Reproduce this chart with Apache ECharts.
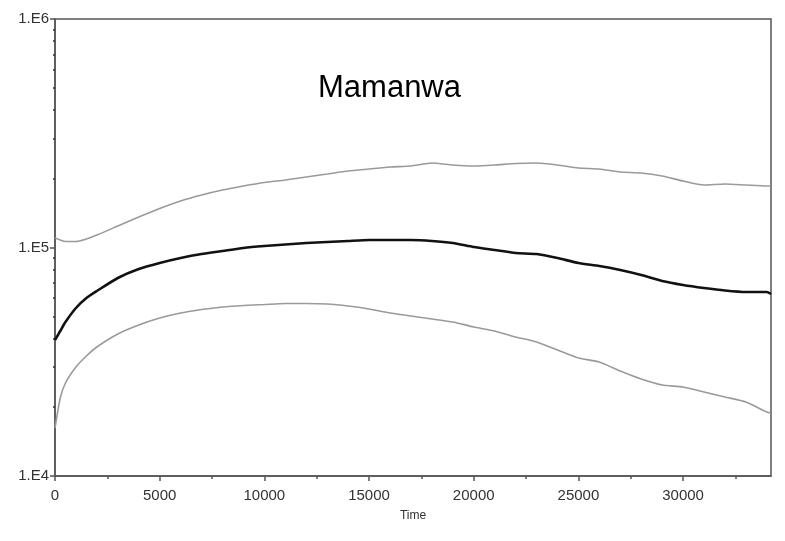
<!DOCTYPE html>
<html>
<head>
<meta charset="utf-8">
<script src="https://cdn.jsdelivr.net/npm/echarts@6/dist/echarts.min.js"></script>
<style>
  html, body { margin: 0; padding: 0; background: #fff; }
  #main { width: 785px; height: 541px; }
</style>
</head>
<body>
<div id="main"></div>
<script>
// time points (x axis)
var times = [0, 250, 500, 1000, 1500, 2000, 3000, 4000, 5000, 6000, 7000, 8000, 9000, 10000,
    11000, 12000, 13000, 14000, 15000, 16000, 17000, 18000, 19000, 20000, 21000, 22000, 23000,
    24000, 25000, 26000, 27000, 28000, 29000, 30000, 31000, 32000, 33000, 34000, 34200];

// median estimate (black)
var median = [39370, 43110, 47200, 54350, 60120, 64510, 73550, 80520, 85530, 89950, 93670, 96540,
    99500, 101500, 103100, 104600, 105700, 106800, 107800, 107800, 107800, 106800, 104600, 100500,
    97520, 94600, 93670, 89950, 85530, 82990, 79690, 75790, 71370, 68550, 66490, 64830, 63860, 63860, 62580];

// upper 95% bound (grey)
var upper = [110000, 107800, 106200, 106200, 108950, 113400, 124200, 136000, 148200, 159800, 169700,
    178400, 185800, 192500, 197400, 203500, 209700, 216200, 220600, 225100, 227300, 234300, 229600,
    227300, 229600, 233100, 234300, 229600, 222800, 220600, 214000, 211900, 205600, 195400, 187700,
    189600, 187700, 185800, 185800];

// lower 95% bound (grey)
var lower = [16220, 21950, 25530, 29990, 33500, 36690, 41830, 45790, 49140, 51680, 53540, 54900,
    55740, 56300, 56870, 56870, 56580, 55460, 53810, 51680, 50140, 48650, 47210, 44880, 43110, 40590,
    38590, 35600, 32840, 31540, 28810, 26580, 25020, 24520, 23320, 22170, 21080, 19060, 18870];

var xMajorTicks = [0, 5000, 10000, 15000, 20000, 25000, 30000];
var xMinorTicks = [2500, 7500, 12500, 17500, 22500, 27500, 32500];
var yMajorTicks = [10000, 100000, 1000000];
var yMinorTicks = [20000, 30000, 40000, 50000, 60000, 70000, 80000, 90000,
    200000, 300000, 400000, 500000, 600000, 700000, 800000, 900000];

function pairs(vals) {
    return times.map(function (t, i) { return [t, vals[i]]; });
}

var dom = document.getElementById('main');
var myChart = echarts.init(dom, null, { renderer: 'canvas' });

var axisColor = '#555';
var fontFam = 'Liberation Sans, Arial, sans-serif';

var option = {
    animation: false,
    backgroundColor: '#fff',
    title: {
        text: 'Mamanwa',
        left: 313,
        top: 68,
        textStyle: { color: '#000', fontSize: 31, fontWeight: 'normal', fontFamily: fontFam }
    },
    grid: {
        left: 55, right: 14, top: 19, bottom: 65,
        show: true,
        borderColor: axisColor,
        borderWidth: 1.5,
        backgroundColor: '#fff'
    },
    xAxis: [{
        type: 'value',
        min: 0,
        max: 34200,
        interval: 5000,
        name: 'Time',
        nameLocation: 'middle',
        nameGap: 34,
        nameTextStyle: { color: '#333', fontSize: 12, fontFamily: fontFam },
        splitLine: { show: false },
        axisLine: { show: true, lineStyle: { color: axisColor, width: 1.5 } },
        axisTick: { show: true, length: 5, customValues: xMajorTicks, lineStyle: { color: axisColor, width: 1.5 } },
        axisLabel: {
            margin: 12,
            customValues: xMajorTicks,
            color: '#333',
            fontSize: 15,
            fontFamily: fontFam,
            formatter: function (v) { return String(v); }
        }
    }, {
        type: 'value',
        position: 'bottom',
        min: 0,
        max: 34200,
        splitLine: { show: false },
        axisLine: { show: false },
        axisTick: { show: true, length: 3, customValues: xMinorTicks, lineStyle: { color: axisColor, width: 1.5 } },
        axisLabel: { show: false }
    }],
    yAxis: [{
        type: 'log',
        logBase: 10,
        min: 10000,
        max: 1000000,
        splitLine: { show: false },
        axisLine: { show: true, lineStyle: { color: axisColor, width: 1.5 } },
        axisTick: { show: true, length: 5, customValues: yMajorTicks, lineStyle: { color: axisColor, width: 1.5 } },
        axisLabel: {
            margin: 6,
            customValues: yMajorTicks,
            color: '#333',
            fontSize: 15,
            fontFamily: fontFam,
            formatter: function (v) { return '1.E' + Math.round(Math.log10(v)); }
        }
    }, {
        type: 'log',
        logBase: 10,
        position: 'left',
        min: 10000,
        max: 1000000,
        splitLine: { show: false },
        axisLine: { show: false },
        axisTick: { show: true, length: 2, customValues: yMinorTicks, lineStyle: { color: '#333', width: 1.5 } },
        axisLabel: { show: false }
    }],
    series: [{
        name: 'upper',
        type: 'line',
        data: pairs(upper),
        showSymbol: false,
        smooth: 0.2,
        lineStyle: { color: '#9a9a9a', width: 1.6 }
    }, {
        name: 'lower',
        type: 'line',
        data: pairs(lower),
        showSymbol: false,
        smooth: 0.2,
        lineStyle: { color: '#9a9a9a', width: 1.6 }
    }, {
        name: 'median',
        type: 'line',
        data: pairs(median),
        showSymbol: false,
        smooth: 0.2,
        lineStyle: { color: '#111', width: 2.6 }
    }]
};

myChart.setOption(option);
window.addEventListener('resize', myChart.resize);
</script>
</body>
</html>
